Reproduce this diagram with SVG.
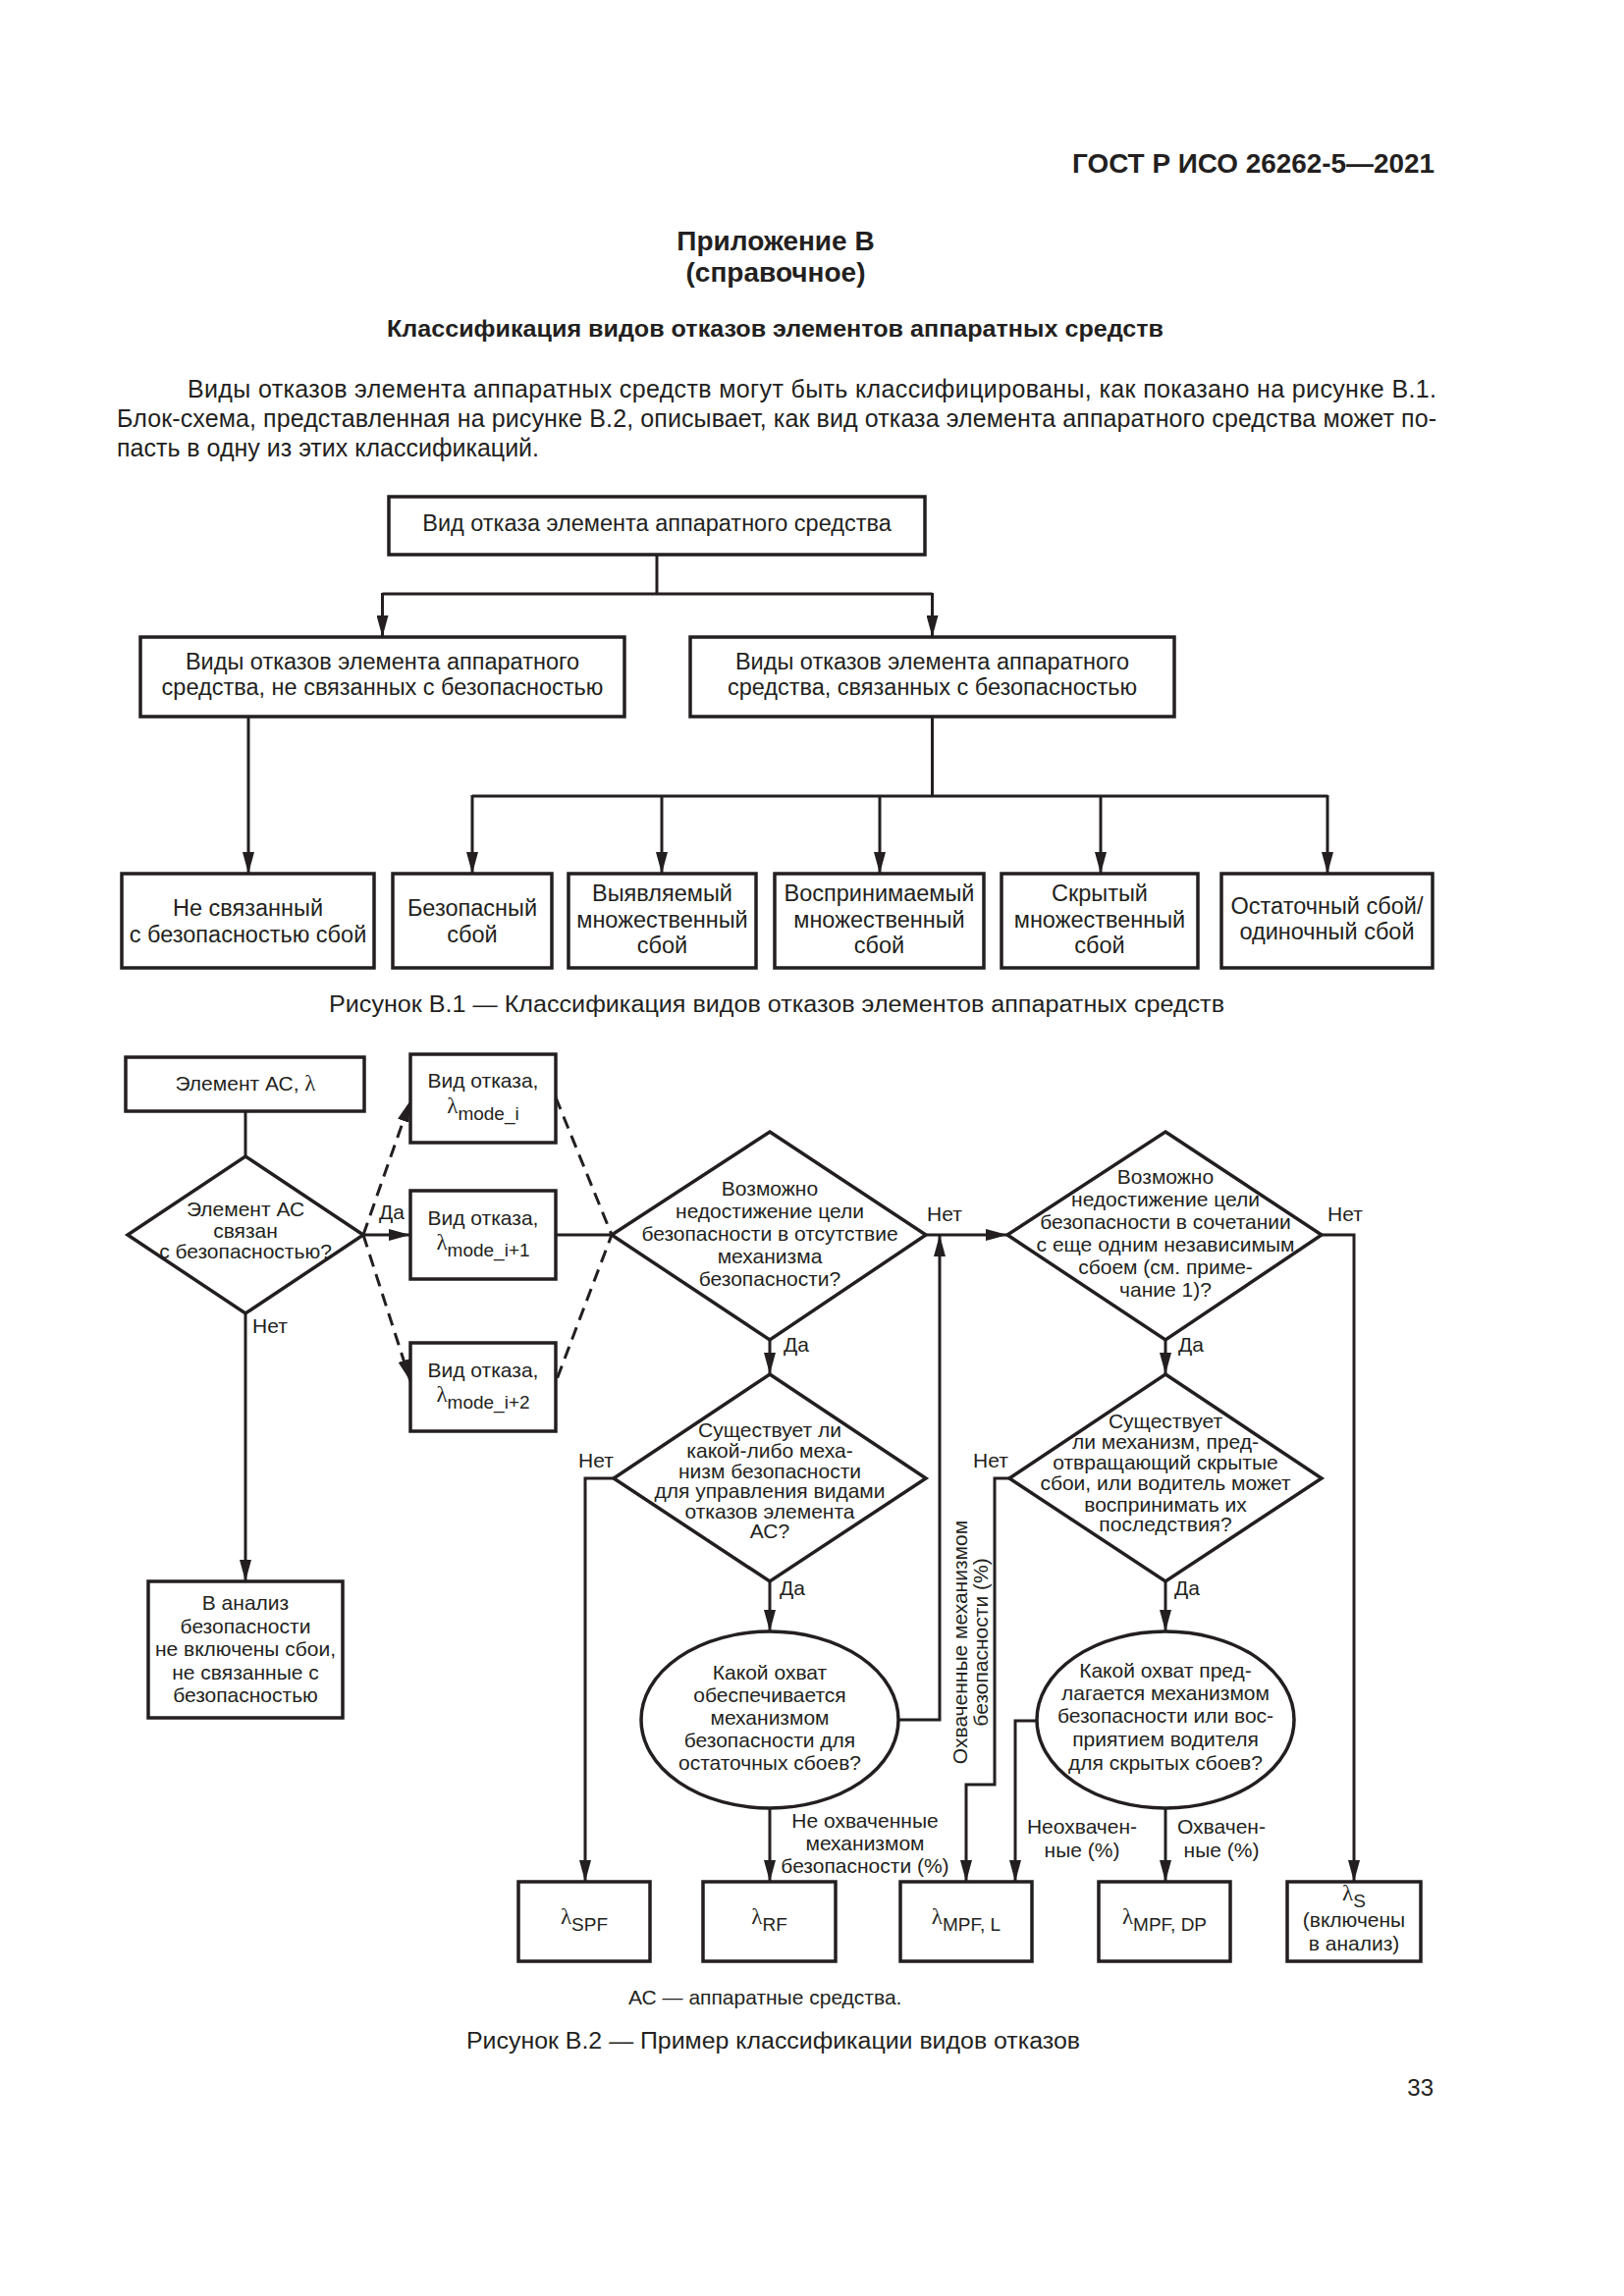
<svg xmlns="http://www.w3.org/2000/svg" width="1654" height="2339" viewBox="0 0 1654 2339">
<style>
text{font-family:"Liberation Sans",Arial,sans-serif;fill:#231f20}
.b{font-weight:bold}
.t1{font-size:23.5px;text-anchor:middle}
.t2{font-size:21px;text-anchor:middle}
.lb{font-size:21px}
.lam{font-family:"Liberation Serif",serif;font-size:23px}
.sub{font-size:19px}
.box{fill:#fff;stroke:#231f20;stroke-width:3.5}
.ln{fill:none;stroke:#231f20;stroke-width:3}
.ar{marker-end:url(#ah)}
.dash{stroke-dasharray:13 8}
</style>
<defs>
<marker id="ah" markerUnits="userSpaceOnUse" markerWidth="22" markerHeight="12" viewBox="0 0 22 12" refX="22" refY="6" orient="auto"><path d="M0,0 L22,6 L0,12 z" fill="#231f20"/></marker>
</defs>
<rect width="1654" height="2339" fill="#fff"/>

<g id="page-text">
<text class="b" x="1092" y="176" font-size="27" textLength="369" lengthAdjust="spacingAndGlyphs">ГОСТ Р ИСО 26262-5—2021</text>
<text class="b" x="790" y="255" font-size="28" text-anchor="middle">Приложение В</text>
<text class="b" x="790" y="287" font-size="28" text-anchor="middle">(справочное)</text>
<text class="b" x="394" y="343" font-size="23" textLength="791" lengthAdjust="spacingAndGlyphs">Классификация видов отказов элементов аппаратных средств</text>
<text x="191" y="405" font-size="25" textLength="1272" lengthAdjust="spacing">Виды отказов элемента аппаратных средств могут быть классифицированы, как показано на рисунке В.1.</text>
<text x="119" y="435" font-size="25" textLength="1344" lengthAdjust="spacing">Блок-схема, представленная на рисунке В.2, описывает, как вид отказа элемента аппаратного средства может по-</text>
<text x="119" y="465" font-size="25">пасть в одну из этих классификаций.</text>
<text x="335" y="1031" font-size="23" textLength="912" lengthAdjust="spacingAndGlyphs">Рисунок В.1 — Классификация видов отказов элементов аппаратных средств</text>
<text x="640" y="2042" font-size="21">АС — аппаратные средства.</text>
<text x="475" y="2087" font-size="23" textLength="625" lengthAdjust="spacingAndGlyphs">Рисунок В.2 — Пример классификации видов отказов</text>
<text x="1460" y="2135" font-size="24" text-anchor="end">33</text>
</g>

<g id="connectors-b1">
<path class="ln" d="M669,565 V605"/>
<path class="ln" d="M389.5,605 H949.5"/>
<path class="ln ar" d="M389.5,604 V649"/>
<path class="ln ar" d="M949.5,604 V649"/>
<path class="ln ar" d="M253,730 V890"/>
<path class="ln" d="M949.5,730 V811"/>
<path class="ln" d="M481,811 H1352"/>
<path class="ln ar" d="M481,810 V890"/>
<path class="ln ar" d="M674,810 V890"/>
<path class="ln ar" d="M896,810 V890"/>
<path class="ln ar" d="M1121,810 V890"/>
<path class="ln ar" d="M1352,810 V890"/>
</g>

<g id="b1-root"><rect class="box" x="396" y="506" width="546" height="59"/><text class="t1" x="669" y="541">Вид отказа элемента аппаратного средства</text></g>
<g id="b1-nonsafety"><rect class="box" x="143" y="649" width="493" height="81"/><text class="t1" x="389.5" y="682">Виды отказов элемента аппаратного</text><text class="t1" x="389.5" y="708">средства, не связанных с безопасностью</text></g>
<g id="b1-safety"><rect class="box" x="703" y="649" width="493" height="81"/><text class="t1" x="949.5" y="682">Виды отказов элемента аппаратного</text><text class="t1" x="949.5" y="708">средства, связанных с безопасностью</text></g>
<g id="b1-ns-fault"><rect class="box" x="124" y="890" width="257" height="96"/><text class="t1" x="252.5" y="933">Не связанный</text><text class="t1" x="252.5" y="960">с безопасностью сбой</text></g>
<g id="b1-safe"><rect class="box" x="400" y="890" width="162" height="96"/><text class="t1" x="481" y="933">Безопасный</text><text class="t1" x="481" y="960">сбой</text></g>
<g id="b1-detected"><rect class="box" x="579" y="890" width="191" height="96"/><text class="t1" x="674.5" y="918">Выявляемый</text><text class="t1" x="674.5" y="945">множественный</text><text class="t1" x="674.5" y="971">сбой</text></g>
<g id="b1-perceived"><rect class="box" x="789" y="890" width="213" height="96"/><text class="t1" x="895.5" y="918">Воспринимаемый</text><text class="t1" x="895.5" y="945">множественный</text><text class="t1" x="895.5" y="971">сбой</text></g>
<g id="b1-latent"><rect class="box" x="1020" y="890" width="200" height="96"/><text class="t1" x="1120" y="918">Скрытый</text><text class="t1" x="1120" y="945">множественный</text><text class="t1" x="1120" y="971">сбой</text></g>
<g id="b1-residual"><rect class="box" x="1244" y="890" width="215" height="96"/><text class="t1" x="1351.5" y="931">Остаточный сбой/</text><text class="t1" x="1351.5" y="957">одиночный сбой</text></g>

<g id="connectors-b2">
<path class="ln" d="M250,1132 V1178"/>
<path class="ln ar" d="M250,1338 V1611"/>
<path class="ln ar" d="M370,1258 H418"/>
<path class="ln dash ar" d="M370,1258 L418,1121"/>
<path class="ln dash ar" d="M370,1258 L418,1407"/>
<path class="ln dash" d="M566,1118 L623,1258 L566,1408"/>
<path class="ln" d="M566,1258 H623"/>
<path class="ln ar" d="M943,1258 H1026"/>
<path class="ln ar" d="M915,1752 H957 V1258"/>
<path class="ln ar" d="M784,1365 V1400"/>
<path class="ln ar" d="M784,1611 V1662"/>
<path class="ln ar" d="M625,1506 H596 V1917"/>
<path class="ln ar" d="M784,1842 V1917"/>
<path class="ln ar" d="M1346,1258 H1379 V1917"/>
<path class="ln ar" d="M1187,1365 V1400"/>
<path class="ln ar" d="M1187,1611 V1662"/>
<path class="ln ar" d="M1028,1506 H1013 V1818 H984 V1917"/>
<path class="ln ar" d="M1056,1753 H1034 V1917"/>
<path class="ln ar" d="M1187,1842 V1917"/>
</g>

<g id="b2-labels">
<text class="lb" x="386" y="1242">Да</text>
<text class="lb" x="257" y="1358">Нет</text>
<text class="lb" x="944" y="1244">Нет</text>
<text class="lb" x="798" y="1377">Да</text>
<text class="lb" x="1352" y="1244">Нет</text>
<text class="lb" x="1200" y="1377">Да</text>
<text class="lb" x="589" y="1495">Нет</text>
<text class="lb" x="794" y="1625">Да</text>
<text class="lb" x="991" y="1495">Нет</text>
<text class="lb" x="1196" y="1625">Да</text>
<g transform="translate(985,1673) rotate(-90)"><text class="t2" x="0" y="0">Охваченные механизмом</text></g>
<g transform="translate(1006,1673) rotate(-90)"><text class="t2" x="0" y="0">безопасности (%)</text></g>
<text class="t2" x="881" y="1862">Не охваченные</text>
<text class="t2" x="881" y="1885">механизмом</text>
<text class="t2" x="881" y="1908">безопасности (%)</text>
<text class="t2" x="1102" y="1868">Неохвачен-</text>
<text class="t2" x="1102" y="1892">ные (%)</text>
<text class="t2" x="1244" y="1868">Охвачен-</text>
<text class="t2" x="1244" y="1892">ные (%)</text>
</g>

<g id="b2-element"><rect class="box" x="128" y="1077" width="243" height="55"/><text class="t2" x="250" y="1111">Элемент АС, <tspan class="lam">λ</tspan></text></g>
<g id="b2-d1"><polygon class="box" points="250,1178 370,1258 250,1338 130,1258"/><text class="t2" x="250" y="1239">Элемент АС</text><text class="t2" x="250" y="1261">связан</text><text class="t2" x="250" y="1282">с безопасностью?</text></g>
<g id="b2-mode-i"><rect class="box" x="418" y="1074" width="148" height="90"/><text class="t2" x="492" y="1108">Вид отказа,</text><text class="t2" x="492" y="1134"><tspan class="lam">λ</tspan><tspan class="sub" dy="7">mode_i</tspan></text></g>
<g id="b2-mode-i1"><rect class="box" x="418" y="1213" width="148" height="90"/><text class="t2" x="492" y="1248">Вид отказа,</text><text class="t2" x="492" y="1273"><tspan class="lam">λ</tspan><tspan class="sub" dy="7">mode_i+1</tspan></text></g>
<g id="b2-mode-i2"><rect class="box" x="418" y="1368" width="148" height="90"/><text class="t2" x="492" y="1403">Вид отказа,</text><text class="t2" x="492" y="1428"><tspan class="lam">λ</tspan><tspan class="sub" dy="7">mode_i+2</tspan></text></g>
<g id="b2-not-included"><rect class="box" x="151" y="1611" width="198" height="139"/><text class="t2" x="250" y="1640">В анализ</text><text class="t2" x="250" y="1664">безопасности</text><text class="t2" x="250" y="1687">не включены сбои,</text><text class="t2" x="250" y="1711">не связанные с</text><text class="t2" x="250" y="1734">безопасностью</text></g>
<g id="b2-d2"><polygon class="box" points="784,1153 943,1258 784,1365 623,1258"/><text class="t2" x="784" y="1218">Возможно</text><text class="t2" x="784" y="1241">недостижение цели</text><text class="t2" x="784" y="1264">безопасности в отсутствие</text><text class="t2" x="784" y="1287">механизма</text><text class="t2" x="784" y="1310">безопасности?</text></g>
<g id="b2-d3"><polygon class="box" points="1187,1153 1346,1258 1187,1365 1026,1258"/><text class="t2" x="1187" y="1206">Возможно</text><text class="t2" x="1187" y="1229">недостижение цели</text><text class="t2" x="1187" y="1252">безопасности в сочетании</text><text class="t2" x="1187" y="1275">с еще одним независимым</text><text class="t2" x="1187" y="1298">сбоем (см. приме-</text><text class="t2" x="1187" y="1321">чание 1)?</text></g>
<g id="b2-d4"><polygon class="box" points="784,1400 943,1506 784,1611 625,1506"/><text class="t2" x="784" y="1464">Существует ли</text><text class="t2" x="784" y="1485">какой-либо меха-</text><text class="t2" x="784" y="1506">низм безопасности</text><text class="t2" x="784" y="1526">для управления видами</text><text class="t2" x="784" y="1547">отказов элемента</text><text class="t2" x="784" y="1567">АС?</text></g>
<g id="b2-d5"><polygon class="box" points="1187,1400 1346,1506 1187,1611 1028,1506"/><text class="t2" x="1187" y="1455">Существует</text><text class="t2" x="1187" y="1476">ли механизм, пред-</text><text class="t2" x="1187" y="1497">отвращающий скрытые</text><text class="t2" x="1187" y="1518">сбои, или водитель может</text><text class="t2" x="1187" y="1540">воспринимать их</text><text class="t2" x="1187" y="1560">последствия?</text></g>
<g id="b2-c1"><ellipse class="box" cx="784" cy="1752" rx="131" ry="90"/><text class="t2" x="784" y="1711">Какой охват</text><text class="t2" x="784" y="1734">обеспечивается</text><text class="t2" x="784" y="1757">механизмом</text><text class="t2" x="784" y="1780">безопасности для</text><text class="t2" x="784" y="1803">остаточных сбоев?</text></g>
<g id="b2-c2"><ellipse class="box" cx="1187" cy="1752" rx="131" ry="90"/><text class="t2" x="1187" y="1709">Какой охват пред-</text><text class="t2" x="1187" y="1732">лагается механизмом</text><text class="t2" x="1187" y="1755">безопасности или вос-</text><text class="t2" x="1187" y="1779">приятием водителя</text><text class="t2" x="1187" y="1803">для скрытых сбоев?</text></g>
<g id="b2-spf"><rect class="box" x="528" y="1917" width="134" height="81"/><text class="t2" x="595" y="1960"><tspan class="lam">λ</tspan><tspan class="sub" dy="7">SPF</tspan></text></g>
<g id="b2-rf"><rect class="box" x="716" y="1917" width="135" height="81"/><text class="t2" x="783.5" y="1960"><tspan class="lam">λ</tspan><tspan class="sub" dy="7">RF</tspan></text></g>
<g id="b2-mpfl"><rect class="box" x="917" y="1917" width="134" height="81"/><text class="t2" x="984" y="1960"><tspan class="lam">λ</tspan><tspan class="sub" dy="7">MPF, L</tspan></text></g>
<g id="b2-mpfdp"><rect class="box" x="1119" y="1917" width="134" height="81"/><text class="t2" x="1186" y="1960"><tspan class="lam">λ</tspan><tspan class="sub" dy="7">MPF, DP</tspan></text></g>
<g id="b2-s"><rect class="box" x="1311" y="1917" width="136" height="81"/><text class="t2" x="1379" y="1936"><tspan class="lam">λ</tspan><tspan class="sub" dy="7">S</tspan></text><text class="t2" x="1379" y="1963">(включены</text><text class="t2" x="1379" y="1987">в анализ)</text></g>
</svg>
